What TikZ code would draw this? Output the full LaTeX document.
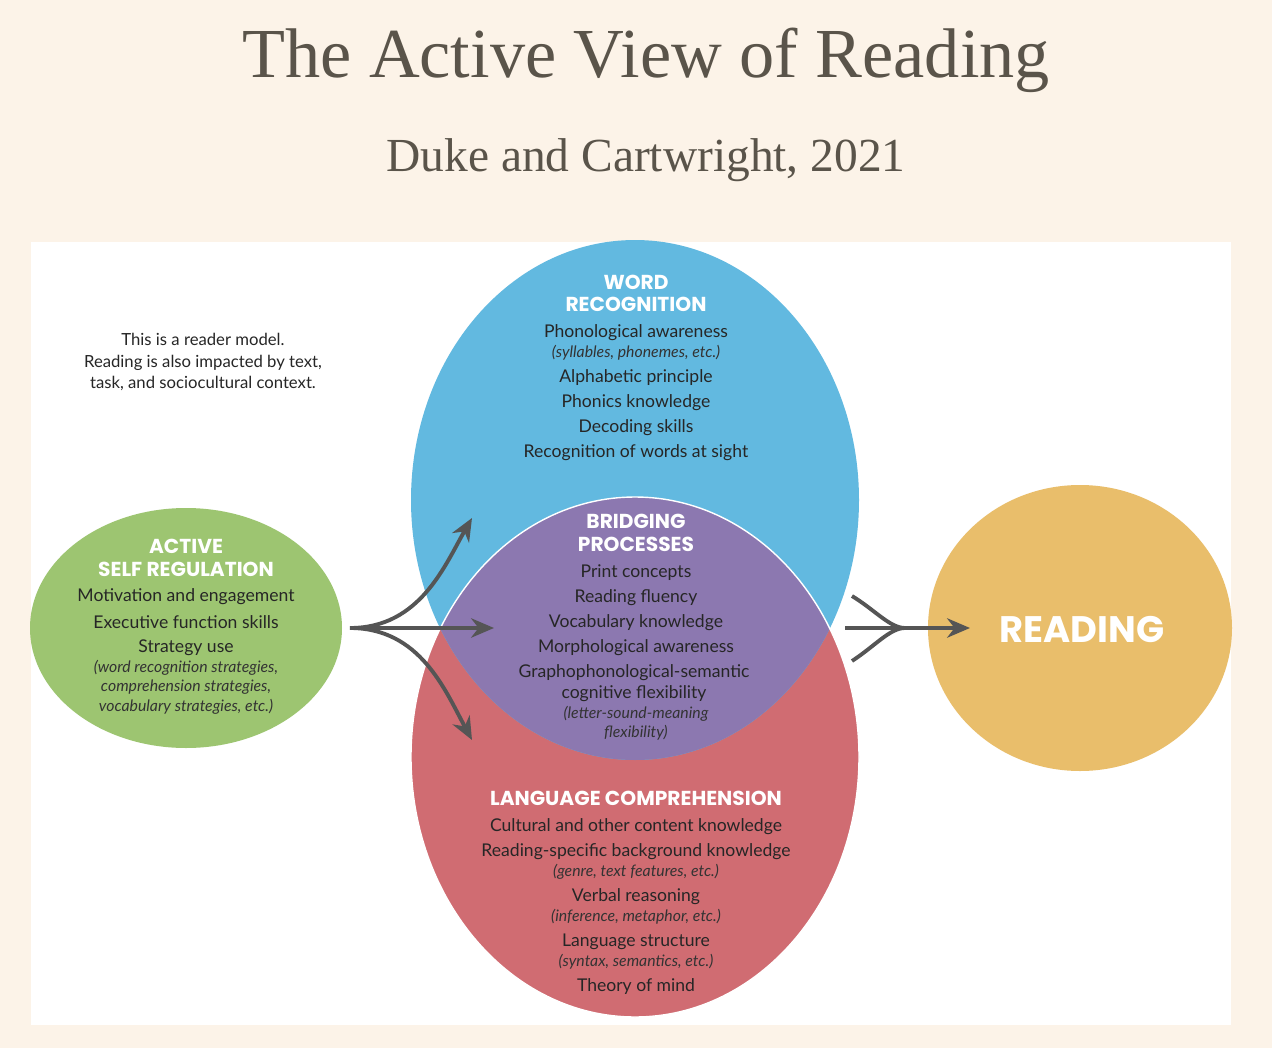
\documentclass[tikz,border=0pt]{standalone}
\usepackage{fontspec}
\setmainfont{Lato}
\newfontfamily\headf{Poppins}
\newfontfamily\titlef{Liberation Serif}
\usetikzlibrary{arrows.meta}
\definecolor{bgc}{HTML}{FCF3E8}
\definecolor{tcol}{HTML}{5A544A}
\definecolor{blu}{HTML}{62B9E0}
\definecolor{rd}{HTML}{D06C72}
\definecolor{pur}{HTML}{8C78B0}
\definecolor{grn}{HTML}{9DC571}
\definecolor{org}{HTML}{E9BE6B}
\definecolor{arr}{HTML}{555555}
\tikzset{
 bd/.style={font=\fontsize{10pt}{12pt}\selectfont, text=black!85, inner sep=0},
 it/.style={font=\fontsize{9pt}{11pt}\selectfont\itshape, text=black!80, inner sep=0},
 hd/.style={font=\headf\bfseries\fontsize{11.5pt}{13pt}\selectfont, text=white, inner sep=0},
 ar/.style={draw=arr, line width=2.2pt, -{Stealth[length=13pt,width=11pt]}},
 ln/.style={draw=arr, line width=2.2pt}
}
\begin{document}
\begin{tikzpicture}[x=0.02cm,y=-0.02cm]
\fill[bgc] (0,0) rectangle (1272,1048);
\fill[white] (31,242) rectangle (1231,1025);
\node[text=tcol,font=\titlef\fontsize{40pt}{44pt}\selectfont] (title) at (646,60) {The Active View of Reading};
\node[text=tcol,font=\titlef\fontsize{27pt}{30pt}\selectfont] (sub) at (646,160) {Duke and Cartwright, 2021};
% ellipses
\fill[rd] (635,757) ellipse [x radius=224, y radius=260];
\fill[blu] (635,500) ellipse [x radius=224, y radius=260];
\begin{scope}
\clip (635,757) ellipse [x radius=224, y radius=260];
\fill[pur] (635,500) ellipse [x radius=224, y radius=260];
\end{scope}
\draw[white,line width=0.8pt] (635,757) ellipse [x radius=224, y radius=260];
\fill[grn] (186,628) ellipse [x radius=156, y radius=120];
\fill[org] (1080,628) ellipse [x radius=152, y radius=143];
% note
\node[bd,align=center,font=\fontsize{9.5pt}{12pt}\selectfont] (note) at (203,362) {This is a reader model.\\Reading is also impacted by text,\\task, and sociocultural context.};
% word recognition
\node[hd] (wr1) at (636,282) {WORD};
\node[hd] (wr2) at (636,304) {RECOGNITION};
\node[bd] (w1) at (636,333) {Phonological awareness};
\node[it] (w2) at (636,353) {(syllables, phonemes, etc.)};
\node[bd] (w3) at (636,378) {Alphabetic principle};
\node[bd] (w4) at (636,403) {Phonics knowledge};
\node[bd] (w5) at (636,428) {Decoding skills};
\node[bd] (w6) at (636,453) {Recognition of words at sight};
% bridging
\node[hd] (bp1) at (636,521) {BRIDGING};
\node[hd] (bp2) at (636,544) {PROCESSES};
\node[bd] (b1) at (636,573) {Print concepts};
\node[bd] (b2) at (636,598) {Reading fluency};
\node[bd] (b3) at (636,623) {Vocabulary knowledge};
\node[bd] (b4) at (636,648) {Morphological awareness};
\node[bd] (b5) at (634,673) {Graphophonological-semantic};
\node[bd] (b6) at (634,694) {cognitive flexibility};
\node[it] (b7) at (636,714) {(letter-sound-meaning};
\node[it] (b8) at (636,733) {flexibility)};
% language comprehension
\node[hd] (lc) at (636,798) {LANGUAGE COMPREHENSION};
\node[bd] (l1) at (636,827) {Cultural and other content knowledge};
\node[bd] (l2) at (636,852) {Reading-specific background knowledge};
\node[it] (l3) at (636,872) {(genre, text features, etc.)};
\node[bd] (l4) at (636,897) {Verbal reasoning};
\node[it] (l5) at (636,917) {(inference, metaphor, etc.)};
\node[bd] (l6) at (636,942) {Language structure};
\node[it] (l7) at (636,962) {(syntax, semantics, etc.)};
\node[bd] (l8) at (636,987) {Theory of mind};
% self regulation
\node[hd] (sr1) at (186,546) {ACTIVE};
\node[hd] (sr2) at (186,569) {SELF REGULATION};
\node[bd] (s1) at (186,597) {Motivation and engagement};
\node[bd] (s2) at (186,622) {Executive function skills};
\node[bd] (s3) at (186,648) {Strategy use};
\node[it] (s4) at (186,668) {(word recognition strategies,};
\node[it] (s5) at (186,687) {comprehension strategies,};
\node[it] (s6) at (186,707) {vocabulary strategies, etc.)};
% reading
\node[hd,font=\headf\bfseries\fontsize{21pt}{24pt}\selectfont] (rd) at (1082,629) {READING};
% arrows
\coordinate (st) at (350,628);
\coordinate (e1) at (472,518);
\coordinate (e2) at (494,628);
\coordinate (e3) at (472,740);
\draw[ar] (st) .. controls (420,628) and (445,565) .. (e1);
\draw[ar] (st) -- (e2);
\draw[ar] (st) .. controls (420,628) and (445,690) .. (e3);
\coordinate (r1) at (852,596);
\coordinate (r2) at (852,661);
\coordinate (rm) at (905,628);
\coordinate (re) at (970,628);
\draw[ln] (r1) .. controls (875,610) and (890,628) .. (rm);
\draw[ln] (r2) .. controls (875,646) and (890,628) .. (rm);
\draw[ar] (845,628) -- (re);
\end{tikzpicture}
\end{document}
